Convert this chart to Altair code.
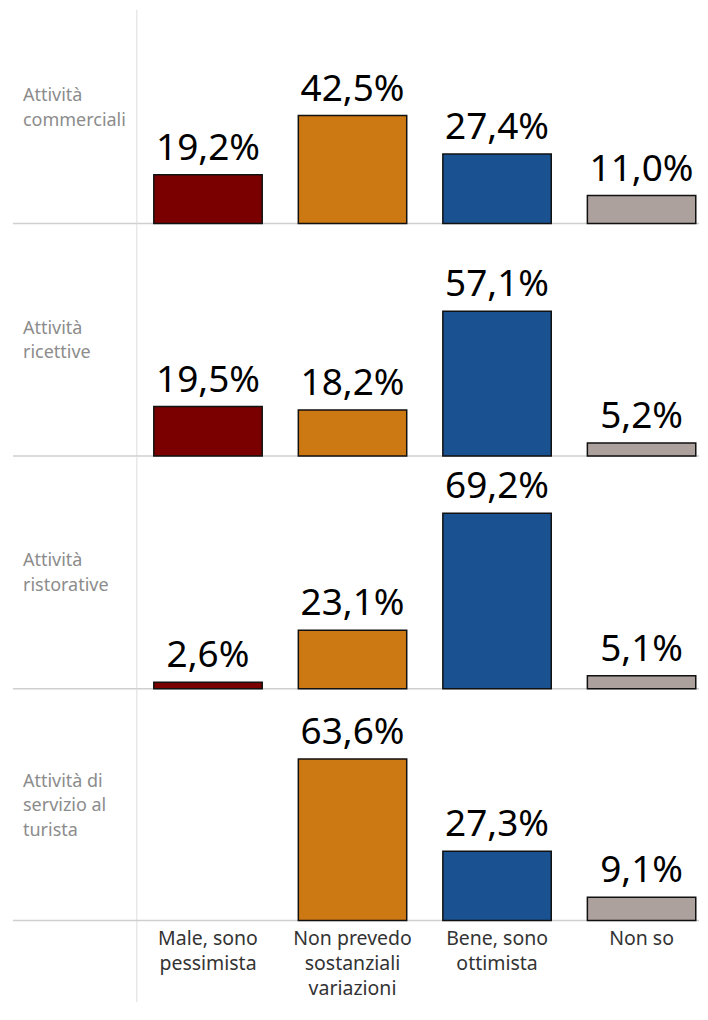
import json
import altair as alt
import pandas as pd

categories = ["Male, sono pessimista", "Non prevedo sostanziali variazioni",
              "Bene, sono ottimista", "Non so"]
category_lines = [["Male, sono", "pessimista"],
                  ["Non prevedo", "sostanziali", "variazioni"],
                  ["Bene, sono", "ottimista"],
                  ["Non so"]]
rows = ["Attività commerciali", "Attività ricettive",
        "Attività ristorative", "Attività di servizio al turista"]
row_lines = [["Attività", "commerciali"],
             ["Attività", "ricettive"],
             ["Attività", "ristorative"],
             ["Attività di", "servizio al", "turista"]]
v_commerciali = [19.2, 42.5, 27.4, 11.0]
v_ricettive = [19.5, 18.2, 57.1, 5.2]
v_ristorative = [2.6, 23.1, 69.2, 5.1]
v_turista = [None, 63.6, 27.3, 9.1]
series = [v_commerciali, v_ricettive, v_ristorative, v_turista]
colors = ["#7A0000", "#CC7914", "#1A5291", "#ADA19D"]

heights = [214, 233, 233, 232]
PX_PER_PCT = 2.54
W = 563
FONT = "Noto Sans"

label_expr = ""
for cat, lines in zip(categories, category_lines):
    label_expr += f"datum.value == {json.dumps(cat)} ? {json.dumps(lines)} : "
label_expr += "datum.label"

charts = []
for i, (row, vals) in enumerate(zip(rows, series)):
    h = heights[i]
    last = i == len(rows) - 1
    recs = [{"cat": c, "value": v, "label": f"{v:.1f}".replace(".", ",") + "%"}
            for c, v in zip(categories, vals) if v is not None]
    df = pd.DataFrame(recs)
    one = pd.DataFrame({"row": [row]})

    if last:
        xaxis = alt.Axis(title=None, labelExpr=label_expr, labelAngle=0,
                         labelFontSize=19.5, labelColor="#333333", labelFont=FONT,
                         labelLineHeight=25, labelPadding=9, ticks=False,
                         domain=False, labelLimit=300)
    else:
        xaxis = None
    x = alt.X("cat:N", sort=categories,
              scale=alt.Scale(domain=categories, paddingInner=0.25,
                              paddingOuter=0.07, align=0.84),
              axis=xaxis)
    y = alt.Y("value:Q", axis=None,
              scale=alt.Scale(domain=[0, h / PX_PER_PCT], nice=False, zero=True))

    n_lines = len(row_lines[i])
    label_y = h - 127.5 - 11.5 * (n_lines - 2)

    base_rule = alt.Chart(one).mark_rule(color="#cfcfcf", strokeWidth=1.5).encode(
        x=alt.value(-124), x2=alt.value(W), y=alt.value(h))
    vrule = alt.Chart(one).mark_rule(color="#dedede", strokeWidth=1).encode(
        x=alt.value(0), y=alt.value(0), y2=alt.value(h + 82 if last else h))
    row_label = alt.Chart(one).mark_text(
        text=row_lines[i], align="left", baseline="middle", lineHeight=24.5,
        fontSize=18, font=FONT, color="#8c8c8c").encode(
        x=alt.value(-114), y=alt.value(label_y))
    bars = alt.Chart(df).mark_bar(stroke="#111111", strokeWidth=1.5).encode(
        x=x, y=y,
        color=alt.Color("cat:N", scale=alt.Scale(domain=categories, range=colors),
                        legend=None))
    texts = alt.Chart(df).mark_text(baseline="bottom", dy=-7, fontSize=37,
                                    font=FONT, color="#000000").encode(
        x=x, y=y, text="label:N")
    layer = alt.layer(vrule, base_rule, row_label, bars, texts).properties(
        width=W, height=h)
    charts.append(layer)

chart = alt.vconcat(*charts, spacing=0, bounds="flush").properties(
    padding={"left": 4, "top": 0, "right": 0, "bottom": 0}
).configure(
    padding={"left": 4, "top": 0, "right": 0, "bottom": 0}
).configure_view(stroke=None).resolve_scale(x="independent", y="independent")

chart.save("out.html", embed_options={"renderer": "svg", "actions": False})
